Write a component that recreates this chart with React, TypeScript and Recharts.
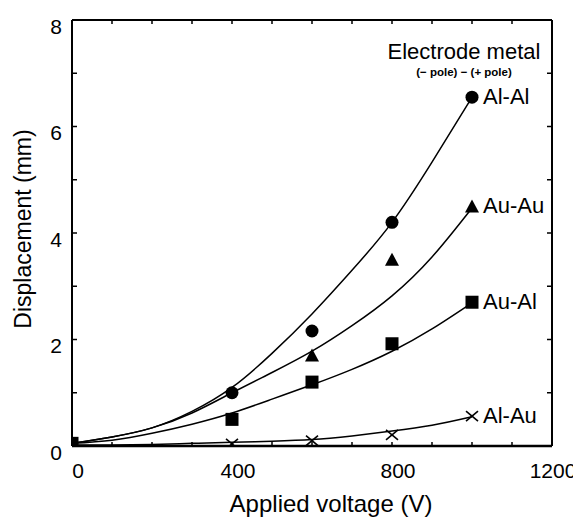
import React from 'react';
import {
  ComposedChart,
  Line,
  Scatter,
  XAxis,
  YAxis,
  ReferenceDot,
  Label,
} from 'recharts';

// fitted curves, every 100 V
const FIT_V = [0, 100, 200, 300, 400, 500, 600, 700, 800, 900, 1000];
const AL_AL_FIT = [0.05, 0.17, 0.34, 0.65, 1.1, 1.74, 2.48, 3.3, 4.2, 5.33, 6.55];
const AU_AU_FIT = [0.05, 0.17, 0.34, 0.62, 1.0, 1.38, 1.78, 2.26, 2.82, 3.55, 4.47];
const AU_AL_FIT = [0.05, 0.11, 0.24, 0.41, 0.62, 0.88, 1.15, 1.44, 1.78, 2.2, 2.69];
const AL_AU_FIT = [0.02, 0.02, 0.03, 0.05, 0.07, 0.09, 0.12, 0.19, 0.28, 0.39, 0.55];

// measured points
const AL_AL_V = [400, 600, 800, 1000];
const AL_AL = [1.0, 2.16, 4.2, 6.55];
const AU_AU_V = [600, 800, 1000];
const AU_AU = [1.7, 3.5, 4.5];
const AU_AL_V = [0, 400, 600, 800, 1000];
const AU_AL = [0.05, 0.5, 1.2, 1.92, 2.7];
const AL_AU_V = [400, 600, 800, 1000];
const AL_AU = [0.04, 0.1, 0.21, 0.56];

const X_TICKS = [0, 100, 200, 300, 400, 500, 600, 700, 800, 900, 1000, 1100, 1200];
const X_LABELS = [0, 400, 800, 1200];
const Y_TICKS = [0, 1, 2, 3, 4, 5, 6, 7, 8];
const Y_LABELS = [0, 2, 4, 6, 8];

const FONT = '"Liberation Sans", Arial, sans-serif';

const rows = (xs: number[], ys: number[]) => xs.map((v, i) => ({ v, d: ys[i] }));

const LeftTick = ({ x, y, payload }: any) => (
  <g>
    <line x1={x} x2={x + 5} y1={y} y2={y} stroke="#000" strokeWidth={1.5} />
    {Y_LABELS.includes(payload.value) && (
      <text x={x - 10} y={y + 6} textAnchor="end" dominantBaseline="central" fontSize={21} fontFamily={FONT} fill="#000">
        {payload.value}
      </text>
    )}
  </g>
);

const RightTick = ({ x, y }: any) => (
  <line x1={x} x2={x - 5} y1={y} y2={y} stroke="#000" strokeWidth={1.5} />
);

const BottomTick = ({ x, y, payload }: any) => (
  <g>
    <line x1={x} x2={x} y1={y} y2={y - 4} stroke="#000" strokeWidth={1.5} />
    {X_LABELS.includes(payload.value) && (
      <text
        x={x + (payload.value === 1200 ? 1 : 6)}
        y={y + 24}
        textAnchor="middle"
        dominantBaseline="central"
        fontSize={21}
        fontFamily={FONT}
        fill="#000"
      >
        {payload.value}
      </text>
    )}
  </g>
);

const TopTick = ({ x, y }: any) => (
  <line x1={x} x2={x} y1={y} y2={y + 4} stroke="#000" strokeWidth={1.5} />
);

const circle = ({ cx, cy }: any) => <circle cx={cx} cy={cy} r={6.5} fill="#000" />;
const triangle = ({ cx, cy }: any) => (
  <polygon points={`${cx},${cy - 7} ${cx + 7},${cy + 6} ${cx - 7},${cy + 6}`} fill="#000" />
);
const square = ({ cx, cy }: any) => <rect x={cx - 6.5} y={cy - 6.5} width={13} height={13} fill="#000" />;
const cross = ({ cx, cy }: any) => (
  <g stroke="#000" strokeWidth={1.6}>
    <line x1={cx - 6} y1={cy - 5} x2={cx + 6} y2={cy + 5} />
    <line x1={cx - 6} y1={cy + 5} x2={cx + 6} y2={cy - 5} />
  </g>
);

const seriesLabel = (text: string) => ({ cx, cy }: any) => (
  <text x={cx + 11} y={cy + 7} fontSize={22} fontFamily={FONT} fill="#000">
    {text}
  </text>
);

const App = () => {
  return (
    <div style={{ width: 573, height: 509, background: '#fff' }}>
      <ComposedChart width={573} height={509} margin={{ top: 0, right: 8, bottom: 0, left: 0 }}>
        <XAxis
          xAxisId="top"
          orientation="top"
          dataKey="v"
          type="number"
          domain={[0, 1200]}
          ticks={X_TICKS}
          height={12}
          tickSize={0}
          tickMargin={0}
          tickLine={false}
          tick={<TopTick />}
          axisLine={{ stroke: '#000', strokeWidth: 2 }}
          allowDataOverflow
        />
        <XAxis
          dataKey="v"
          type="number"
          domain={[0, 1200]}
          ticks={X_TICKS}
          height={71}
          tickSize={0}
          tickMargin={0}
          tickLine={false}
          tick={<BottomTick />}
          axisLine={{ stroke: '#000', strokeWidth: 2.5 }}
          allowDataOverflow
        >
          <Label
            content={({ viewBox }: any) => (
              <text
                x={viewBox.x + viewBox.width / 2 + 19}
                y={viewBox.y + 66}
                textAnchor="middle"
                fontSize={24}
                fontFamily={FONT}
                fill="#000"
              >
                Applied voltage (V)
              </text>
            )}
          />
        </XAxis>
        <YAxis
          type="number"
          domain={[0, 8]}
          ticks={Y_TICKS}
          width={64}
          tickSize={0}
          tickMargin={0}
          tickLine={false}
          tick={<LeftTick />}
          axisLine={{ stroke: '#000', strokeWidth: 2 }}
          allowDataOverflow
        >
          <Label
            content={() => (
              <text
                x={15}
                y={221}
                transform="rotate(-90, 15, 221)"
                textAnchor="middle"
                dominantBaseline="central"
                fontSize={23}
                fontFamily={FONT}
                fill="#000"
              >
                Displacement (mm)
              </text>
            )}
          />
        </YAxis>
        <YAxis
          yAxisId="right"
          orientation="right"
          type="number"
          domain={[0, 8]}
          ticks={Y_TICKS}
          width={21}
          tickSize={0}
          tickMargin={0}
          tickLine={false}
          tick={<RightTick />}
          axisLine={{ stroke: '#000', strokeWidth: 2 }}
          allowDataOverflow
        />

        <Line data={rows(FIT_V, AL_AL_FIT)} dataKey="d" type="natural" stroke="#000" strokeWidth={1.5} dot={false} isAnimationActive={false} />
        <Line data={rows(FIT_V, AU_AU_FIT)} dataKey="d" type="natural" stroke="#000" strokeWidth={1.5} dot={false} isAnimationActive={false} />
        <Line data={rows(FIT_V, AU_AL_FIT)} dataKey="d" type="natural" stroke="#000" strokeWidth={1.5} dot={false} isAnimationActive={false} />
        <Line data={rows(FIT_V, AL_AU_FIT)} dataKey="d" type="natural" stroke="#000" strokeWidth={1.5} dot={false} isAnimationActive={false} />

        <Scatter data={rows(AL_AL_V, AL_AL)} dataKey="d" shape={circle} isAnimationActive={false} />
        <Scatter data={rows(AU_AU_V, AU_AU)} dataKey="d" shape={triangle} isAnimationActive={false} />
        <Scatter data={rows(AU_AL_V, AU_AL)} dataKey="d" shape={square} isAnimationActive={false} />
        <Scatter data={rows(AL_AU_V, AL_AU)} dataKey="d" shape={cross} isAnimationActive={false} />

        <ReferenceDot x={1000} y={AL_AL[3]} shape={seriesLabel('Al-Al')} ifOverflow="visible" />
        <ReferenceDot x={1000} y={AU_AU[2]} shape={seriesLabel('Au-Au')} ifOverflow="visible" />
        <ReferenceDot x={1000} y={AU_AL[4]} shape={seriesLabel('Au-Al')} ifOverflow="visible" />
        <ReferenceDot x={1000} y={AL_AU[3]} shape={seriesLabel('Al-Au')} ifOverflow="visible" />
        <ReferenceDot
          x={980}
          y={7.27}
          ifOverflow="visible"
          shape={({ cx, cy }: any) => (
            <g fontFamily={FONT} fill="#000">
              <text x={cx} y={cy} textAnchor="middle" fontSize={22}>Electrode metal</text>
              <text x={cx} y={cy + 17} textAnchor="middle" fontSize={11.5} fontWeight="bold">(− pole) − (+ pole)</text>
            </g>
          )}
        />
      </ComposedChart>
    </div>
  );
};

export default App;
